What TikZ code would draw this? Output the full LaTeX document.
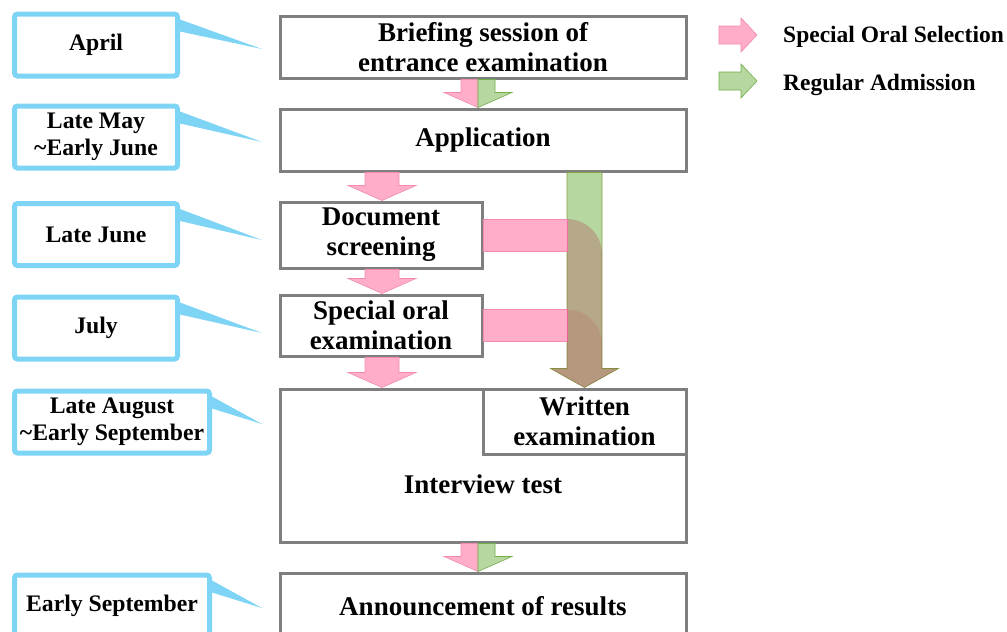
\documentclass[tikz,border=0pt]{standalone}
\usepackage{fontspec}
\setmainfont{Liberation Serif}
\usetikzlibrary{calc}

\definecolor{boxgray}{HTML}{7F7F7F}
\definecolor{dateblue}{HTML}{7ED4F5}
\definecolor{pinkfill}{HTML}{FFADC8}
\definecolor{pinkline}{HTML}{F28BB0}
\definecolor{greenfill}{HTML}{B6D7A0}
\definecolor{greenline}{HTML}{72AE4A}

% down arrow, all pink
\newcommand{\pinkdown}[3]{%
  \path[pinkarrow] let \p1=(#1.south), \p2=(#2.north) in
    (#3-17pt,\y1) -- (#3+17pt,\y1) -- (#3+17pt,\y2+15pt) -- (#3+34pt,\y2+15pt)
    -- (#3,\y2) -- (#3-34pt,\y2+15pt) -- (#3-17pt,\y2+15pt) -- cycle;}
% down arrow, pink left half and green right half
\newcommand{\splitdown}[3]{%
  \path[pinkarrow] let \p1=(#1.south), \p2=(#2.north) in
    (#3-17pt,\y1) -- (#3,\y1) -- (#3,\y2) -- (#3-34pt,\y2+15pt) -- (#3-17pt,\y2+15pt) -- cycle;
  \path[greenarrow] let \p1=(#1.south), \p2=(#2.north) in
    (#3+17pt,\y1) -- (#3,\y1) -- (#3,\y2) -- (#3+34pt,\y2+15pt) -- (#3+17pt,\y2+15pt) -- cycle;}
% straight part of a pink band
\newcommand{\pinkbar}[2]{%
  \path[pinkarrow] let \p1=(#1.east), \p2=(#2.north) in
    (\x1,\y1+16pt) -- (\x2-17.5pt,\y1+16pt) -- (\x2-17.5pt,\y1-16pt) -- (\x1,\y1-16pt) -- cycle;}
% turning part of a pink band, laid over the green arrow
\newcommand{\pinkbend}[3]{%
  \path[pinkarrow, draw=none, blend mode=multiply, fill opacity=#3] let \p1=(#1.east), \p2=(#2.north) in
    (\x2-17.5pt,\y1+16pt)
    .. controls (\x2+1.8pt,\y1+16pt) and (\x2+17.5pt,\y1+0.3pt) .. (\x2+17.5pt,\y1-19pt)
    -- (\x2+17.5pt,\y2+19pt) -- (\x2+34pt,\y2+19pt) -- (\x2,\y2)
    -- (\x2-34pt,\y2+19pt) -- (\x2-17.5pt,\y2+19pt) -- cycle;}

\begin{document}
\begin{tikzpicture}[x=1pt,y=-1pt,
    stagebox/.style={draw=boxgray, line width=3pt, fill=white, align=center, inner sep=0pt,
      font=\fontsize{27}{30}\selectfont\bfseries},
    datebox/.style={draw=dateblue, line width=5pt, rounded corners=3pt, fill=white, align=center,
      inner sep=0pt, minimum height=62pt, font=\fontsize{23.7}{27}\selectfont\bfseries},
    keytext/.style={anchor=west, inner sep=0pt, font=\fontsize{23.5}{27}\selectfont\bfseries},
    pinkarrow/.style={fill=pinkfill, draw=pinkline, line width=0.6pt},
    greenarrow/.style={fill=greenfill, draw=greenline, line width=0.6pt}]

    \useasboundingbox (0,0) rectangle (1007,632);

    % stages
    \node[stagebox, minimum width=406pt, minimum height=62pt] (brief) at (483,47) {Briefing session of\\entrance examination};
    \node[stagebox, minimum width=406pt, minimum height=62pt] (app) at (483,140) {Application};
    \node[stagebox, minimum width=202pt, minimum height=66pt] (doc) at (381,235) {Document\\screening};
    \node[stagebox, minimum width=202pt, minimum height=61pt] (oral) at (381,325.5) {Special oral\\examination};
    \node[stagebox, minimum width=406pt, minimum height=153pt] (interview) at (483,465.5) {};
    \node[font=\fontsize{27}{30}\selectfont\bfseries, inner sep=0pt] (interviewtext) at (483,484) {Interview test};
    \node[stagebox, minimum width=203pt, minimum height=65pt] (written) at (584.5,421.5) {Written\\examination};
    \node[stagebox, minimum width=406pt, minimum height=66pt] (result) at (483,606) {Announcement of results};

    % dates
    \node[datebox, minimum width=163pt] (april) at (96,45) {April};
    \node[datebox, minimum width=163pt] (maylate) at (96,137) {Late May\\\textasciitilde Early June};
    \node[datebox, minimum width=163pt] (junelate) at (96,234.5) {Late June};
    \node[datebox, minimum width=163pt] (july) at (96,328) {July};
    \node[datebox, minimum width=195pt] (auglate) at (112,422) {Late August\\\textasciitilde Early September};
    \node[datebox, minimum width=195pt] (septearly) at (112,606) {Early September};

    \foreach \b/\t in {april/49, maylate/142, junelate/240, july/333, auglate/424, septearly/608}{
        \fill[dateblue] ($(\b.north east)+(0,8)$) -- ($(\b.north east)+(0,20)$) -- (262,\t) -- cycle;
    }

    % flow arrows
    \splitdown{brief}{app}{478pt}
    \pinkdown{app}{doc}{382pt}
    \pinkdown{doc}{oral}{382pt}
    \pinkdown{oral}{interview}{382pt}
    \splitdown{interview}{result}{478pt}

    % regular admission goes straight to the written examination
    \path[greenarrow, draw=greenline!70!brown] let \p1=(app.south), \p2=(written.north) in
        (\x2-17.5pt,\y1) -- (\x2+17.5pt,\y1) -- (\x2+17.5pt,\y2+19pt) -- (\x2+34pt,\y2+19pt)
        -- (\x2,\y2) -- (\x2-34pt,\y2+19pt) -- (\x2-17.5pt,\y2+19pt) -- cycle;
    \pinkbar{doc}{written}
    \pinkbar{oral}{written}
    \pinkbend{doc}{written}{0.65}
    \pinkbend{oral}{written}{0.3}

    % key
    \coordinate (oralkey) at (719,35);
    \coordinate (regkey) at (719,81);
    \foreach \k/\s in {oralkey/pinkarrow, regkey/greenarrow}{
        \path[\s] ($(\k)+(0,-9)$) -- ($(\k)+(22,-9)$) -- ($(\k)+(22,-17)$) -- ($(\k)+(38,0)$)
            -- ($(\k)+(22,17)$) -- ($(\k)+(22,9)$) -- ($(\k)+(0,9)$) -- cycle;
    }
    \node[keytext] (oraltext) at (783,37) {Special Oral Selection};
    \node[keytext] (regtext) at (783,85) {Regular Admission};

\end{tikzpicture}
\end{document}
